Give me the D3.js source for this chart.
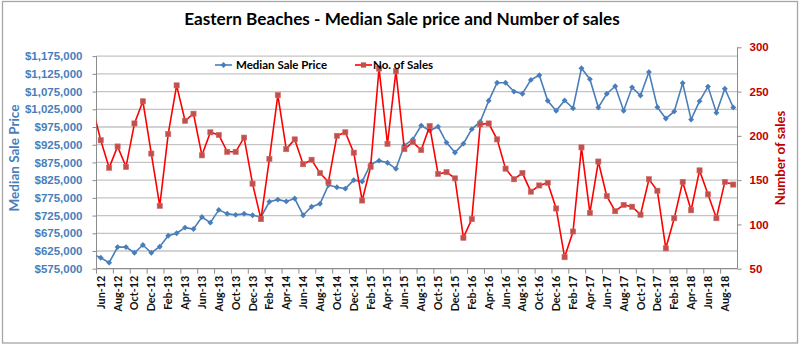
<!DOCTYPE html>
<html>
<head>
<meta charset="utf-8">
<script src="https://cdn.jsdelivr.net/npm/d3@7"></script>
<style>
  body { margin: 0; background: #fff; }
  svg { display: block; font-family: Lato, "Open Sans", sans-serif; }
  .grid line { stroke: #c4c4c4; stroke-width: 1.3; }
</style>
</head>
<body>
<div id="chart"></div>
<script>
// months run from May-12 (clipped at the left edge, as in the original) to Sep-18
let startMonth = new Date(2012, 4, 1);
let endMonth = new Date(2018, 9, 1);

// Median sale price, one per month
let medianPrice = [
  616000,
  606000, 592000, 636000, 636000, 620000, 642000, 620000, 637000, 668000, 675000,
  691000, 687000, 721000, 705000, 741000, 730000, 727000, 730000, 726000, 721000,
  764000, 770000, 765000, 773000, 726000, 750000, 758000, 811000, 805000, 801000,
  825000, 821000, 870000, 880000, 874000, 857000, 923000, 940000, 979000, 965000,
  976000, 931000, 903000, 928000, 969000, 990000, 1049000, 1100000, 1100000, 1075000,
  1069000, 1108000, 1121000, 1049000, 1021000, 1050000, 1028000, 1141000, 1110000, 1030000,
  1069000, 1090000, 1021000, 1087000, 1064000, 1130000, 1031000, 999000, 1019000, 1099000,
  996000, 1048000, 1089000, 1015000, 1083000, 1030000
];

// Number of sales, one per month
let salesCount = [
  233,
  195, 164, 188, 165, 214, 239, 180, 121, 202, 257,
  217, 225, 178, 204, 201, 182, 182, 198, 146, 106,
  174, 246, 185, 196, 168, 173, 158, 148, 200, 204,
  181, 127, 165, 276, 191, 273, 185, 193, 184, 211,
  157, 159, 152, 85, 106, 213, 214, 196, 163, 151,
  158, 137, 144, 147, 118, 63, 92, 187, 113, 171,
  132, 115, 122, 120, 111, 151, 138, 73, 107, 148,
  116, 161, 134, 107, 148, 145
];

let priceTicks = d3.range(575000, 1175001, 50000);
let salesTicks = [50, 100, 150, 200, 250, 300];

((() => {

  let width = 800;
  let height = 354;

  let plot = { left: 96.5, right: 737.5, top: 47.3, bottom: 268.7 };

  let blue = "#4a7ebb";
  let red = "#ff0000";
  let darkRed = "#c00000";

  let months = d3.timeMonth.range(startMonth, endMonth);
  let fmt = d3.timeFormat("%b-%y");

  let rows = months.map((m, i) => ({
    i: i,
    label: fmt(m),
    price: medianPrice[i],
    sales: salesCount[i]
  }));

  let svg = d3
    .select("#chart")
    .append("svg")
    .attr("width", width)
    .attr("height", height);

  // chart frame
  svg.append("rect")
    .attr("x", 2.5).attr("y", 1.5)
    .attr("width", 795).attr("height", 341.5)
    .attr("fill", "#fff")
    .attr("stroke", "#a6a6a6")
    .attr("stroke-width", 1.3);

  // index 1 is Jun-12; the axis starts half a month before it
  let x = d3.scaleLinear()
    .domain([0.5, months.length - 0.5])
    .range([plot.left, plot.right]);

  let yPrice = d3.scaleLinear()
    .domain([575000, 1200000])
    .range([plot.bottom, plot.top]);

  let ySales = d3.scaleLinear()
    .domain([50, 300])
    .range([plot.bottom, plot.top]);

  // horizontal gridlines follow the price axis
  svg.append("g")
    .attr("class", "grid")
    .selectAll("line")
    .data(priceTicks.slice(1))
    .enter()
    .append("line")
    .attr("x1", plot.left)
    .attr("x2", plot.right)
    .attr("y1", d => yPrice(d))
    .attr("y2", d => yPrice(d));

  // left axis
  let leftAxis = svg.append("g")
    .attr("transform", `translate(${plot.left},0)`)
    .call(d3.axisLeft(yPrice)
      .tickValues(priceTicks)
      .tickSize(4)
      .tickPadding(10)
      .tickFormat(d => "$" + d3.format(",")(d)));
  leftAxis.select(".domain").remove();
  leftAxis.append("line")
    .attr("y1", yPrice(1175000)).attr("y2", plot.bottom)
    .attr("stroke", "#8c8c8c");
  leftAxis.selectAll(".tick line").attr("stroke", "#8c8c8c");
  leftAxis.selectAll("text")
    .attr("fill", blue)
    .style("font-size", "11.5px")
    .style("font-weight", "bold");

  // right axis
  let rightAxis = svg.append("g")
    .attr("transform", `translate(${plot.right},0)`)
    .call(d3.axisRight(ySales)
      .tickValues(salesTicks)
      .tickSize(4)
      .tickPadding(8));
  rightAxis.select(".domain").attr("stroke", "#8c8c8c").attr("d", `M0,${plot.top}V${plot.bottom}`);
  rightAxis.selectAll(".tick line").attr("stroke", "#8c8c8c");
  rightAxis.selectAll("text")
    .attr("fill", darkRed)
    .style("font-size", "11.5px")
    .style("font-weight", "bold");

  // bottom axis: labels every second month, tick marks between categories
  let bottom = svg.append("g");
  bottom.append("line")
    .attr("x1", plot.left).attr("x2", plot.right)
    .attr("y1", plot.bottom).attr("y2", plot.bottom)
    .attr("stroke", "#8c8c8c").attr("stroke-width", 1.2);

  let labelled = rows.filter(d => d.i >= 1 && (d.i - 1) % 2 === 0 && d.i < rows.length - 1);

  bottom.selectAll(".xtick")
    .data(labelled)
    .enter()
    .append("line")
    .attr("class", "xtick")
    .attr("x1", d => x(d.i - 0.5))
    .attr("x2", d => x(d.i - 0.5))
    .attr("y1", plot.bottom)
    .attr("y2", plot.bottom + 5)
    .attr("stroke", "#8c8c8c");

  bottom.selectAll(".xlabel")
    .data(labelled)
    .enter()
    .append("text")
    .attr("class", "xlabel")
    .attr("transform", d => `translate(${x(d.i) + 4},${plot.bottom + 7}) rotate(-90)`)
    .attr("text-anchor", "end")
    .style("font-size", "10.8px")
    .style("font-weight", "bold")
    .attr("fill", "#111")
    .text(d => d.label);

  // clip the lines to the plot
  svg.append("clipPath")
    .attr("id", "plot-clip")
    .append("rect")
    .attr("x", plot.left)
    .attr("y", plot.top - 10)
    .attr("width", plot.right - plot.left + 5)
    .attr("height", plot.bottom - plot.top + 20);

  let lines = svg.append("g").attr("clip-path", "url(#plot-clip)");

  let priceLine = d3.line().x(d => x(d.i)).y(d => yPrice(d.price));
  let salesLine = d3.line().x(d => x(d.i)).y(d => ySales(d.sales));

  lines.append("path")
    .datum(rows)
    .attr("d", priceLine)
    .attr("fill", "none")
    .attr("stroke", blue)
    .attr("stroke-width", 1.6);

  lines.selectAll(".diamond")
    .data(rows)
    .enter()
    .append("path")
    .attr("class", "diamond")
    .attr("d", d3.symbol(d3.symbolDiamond2, 22))
    .attr("transform", d => `translate(${x(d.i)},${yPrice(d.price)})`)
    .attr("fill", blue);

  lines.append("path")
    .datum(rows)
    .attr("d", salesLine)
    .attr("fill", "none")
    .attr("stroke", red)
    .attr("stroke-width", 1.6);

  lines.selectAll(".square")
    .data(rows)
    .enter()
    .append("rect")
    .attr("class", "square")
    .attr("x", d => x(d.i) - 2.6)
    .attr("y", d => ySales(d.sales) - 2.6)
    .attr("width", 5.2)
    .attr("height", 5.2)
    .attr("fill", "#c0504d")
    .attr("stroke", "#d06a67")
    .attr("stroke-width", 0.6);

  // title
  svg.append("text")
    .attr("x", 402)
    .attr("y", 25)
    .attr("text-anchor", "middle")
    .style("font-size", "17.2px")
    .style("font-weight", "bold")
    .attr("fill", "#000")
    .text("Eastern Beaches - Median Sale price and Number of sales");

  // axis titles
  svg.append("text")
    .attr("transform", "translate(19,158) rotate(-90)")
    .attr("text-anchor", "middle")
    .style("font-size", "13.5px")
    .style("font-weight", "bold")
    .attr("fill", blue)
    .text("Median Sale Price");

  svg.append("text")
    .attr("transform", "translate(785,158) rotate(-90)")
    .attr("text-anchor", "middle")
    .style("font-size", "13.2px")
    .style("font-weight", "bold")
    .attr("fill", darkRed)
    .text("Number of sales");

  // handmade legend
  let legend = svg.append("g").attr("transform", "translate(215,65)");
  legend.append("line").attr("x1", 0).attr("x2", 17).attr("stroke", blue).attr("stroke-width", 1.6);
  legend.append("path").attr("d", d3.symbol(d3.symbolDiamond2, 22)).attr("transform", "translate(8.5,0)").attr("fill", blue);
  legend.append("text").attr("x", 21).attr("y", 0).attr("dy", "0.35em")
    .style("font-size", "11.5px").style("font-weight", "bold").text("Median Sale Price");

  legend.append("line").attr("x1", 140).attr("x2", 157).attr("stroke", red).attr("stroke-width", 1.6);
  legend.append("rect").attr("x", 145.9).attr("y", -2.6).attr("width", 5.2).attr("height", 5.2).attr("fill", "#c0504d");
  legend.append("text").attr("x", 158).attr("y", 0).attr("dy", "0.35em")
    .style("font-size", "11.5px").style("font-weight", "bold").text("No. of Sales");

})());
</script>
</body>
</html>
